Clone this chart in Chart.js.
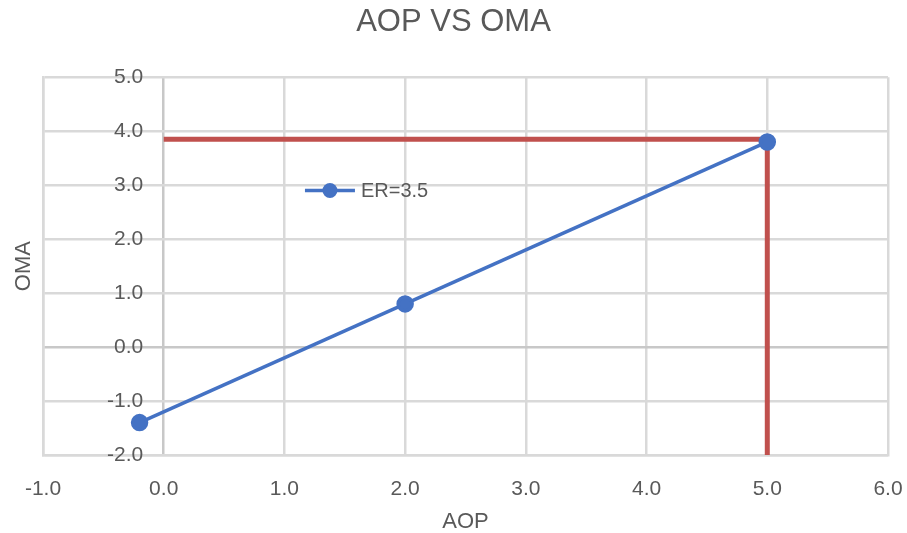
<!DOCTYPE html>
<html>
<head>
<meta charset="utf-8">
<script src="https://cdn.jsdelivr.net/npm/chart.js@4"></script>
<style>
  html, body { margin: 0; padding: 0; background: #fff; }
  #wrap { width: 907px; height: 533px; }
</style>
</head>
<body>
<div id="wrap"><canvas id="chart"></canvas></div>
<script>
// --- data ---
const erX = [-0.2, 2.0, 5.0];
const erY = [-1.4, 0.8, 3.8];
const hLineX = [0, 5];
const hLineY = [3.85, 3.85];
const vLineX = [5, 5];
const vLineY = [3.85, -2];
const xTicks = [-1, 0, 1, 2, 3, 4, 5, 6];
const yTicks = [-2, -1, 0, 1, 2, 3, 4, 5];

const TXT = '#595959';
const GRID = '#d9d9d9';
const BLUE = '#4472c4';
const RED = '#c0504d';
const FONT = "'Liberation Sans', Arial, sans-serif";

const pts = (xs, ys) => xs.map((x, i) => ({ x: x, y: ys[i] }));

// legend drawn inside the plot, Excel style (line + marker)
const insideLegend = {
    id: 'insideLegend',
    afterDraw(chart) {
        const ds = chart.data.datasets[0];
        const ctx = chart.ctx;
        const x = chart.scales.x.getPixelForValue(1.17);
        const y = chart.scales.y.getPixelForValue(2.9);
        ctx.save();
        ctx.strokeStyle = ds.borderColor;
        ctx.lineWidth = ds.borderWidth;
        ctx.beginPath();
        ctx.moveTo(x, y);
        ctx.lineTo(x + 50, y);
        ctx.stroke();
        ctx.fillStyle = ds.backgroundColor;
        ctx.beginPath();
        ctx.arc(x + 25, y, 7.5, 0, Math.PI * 2);
        ctx.fill();
        ctx.fillStyle = TXT;
        ctx.font = '20px ' + FONT;
        ctx.textBaseline = 'middle';
        ctx.fillText(ds.label, x + 56, y + 1);
        ctx.restore();
    }
};

new Chart(document.getElementById('chart'), {
    type: 'scatter',
    data: {
        datasets: [
            {
                label: 'ER=3.5',
                data: pts(erX, erY),
                showLine: true,
                borderColor: BLUE,
                backgroundColor: BLUE,
                borderWidth: 3.5,
                pointRadius: 7,
                pointHoverRadius: 7,
                order: 0
            },
            {
                label: 'h',
                data: pts(hLineX, hLineY),
                showLine: true,
                borderColor: RED,
                borderWidth: 5,
                pointRadius: 0,
                order: 1
            },
            {
                label: 'v',
                data: pts(vLineX, vLineY),
                showLine: true,
                borderColor: RED,
                borderWidth: 5,
                pointRadius: 0,
                order: 1
            }
        ]
    },
    options: {
        responsive: true,
        maintainAspectRatio: false,
        animation: false,
        layout: { padding: 0 },
        plugins: {
            legend: { display: false },
            tooltip: { enabled: false },
            title: {
                display: true,
                text: 'AOP VS OMA',
                color: TXT,
                font: { family: FONT, size: 31, weight: 'normal' },
                padding: { top: 4, bottom: 36 }
            }
        },
        scales: {
            x: {
                type: 'linear',
                min: -1,
                max: 6,
                afterBuildTicks: s => { s.ticks = xTicks.map(v => ({ value: v })); },
                afterFit: s => { s.height = 78; s.paddingLeft = 0; s.paddingRight = 19; },
                grid: {
                    color: c => (c.tick && c.tick.value === 0 ? '#c8c8c8' : GRID),
                    lineWidth: 2.5,
                    drawTicks: false
                },
                border: { color: GRID, width: 2.5 },
                ticks: {
                    color: TXT,
                    padding: 22,
                    font: { family: FONT, size: 21 },
                    callback: v => v.toFixed(1)
                },
                title: {
                    display: true,
                    text: 'AOP',
                    color: TXT,
                    font: { family: FONT, size: 22 },
                    padding: { top: 0, bottom: -2 }
                }
            },
            y: {
                type: 'linear',
                min: -2,
                max: 5,
                afterBuildTicks: s => { s.ticks = yTicks.map(v => ({ value: v })); },
                afterFit: s => { s.width = 43; },
                grid: {
                    color: c => (c.tick && c.tick.value === 0 ? '#c8c8c8' : GRID),
                    lineWidth: 2.5,
                    drawTicks: false
                },
                border: { color: GRID, width: 2.5 },
                ticks: {
                    mirror: true,
                    crossAlign: 'far',
                    padding: 64,
                    color: TXT,
                    font: { family: FONT, size: 21 },
                    callback: v => v.toFixed(1)
                },
                title: {
                    display: true,
                    text: 'OMA',
                    color: TXT,
                    font: { family: FONT, size: 22 },
                    padding: { top: 11, bottom: 0 }
                }
            }
        }
    },
    plugins: [insideLegend]
});
</script>
</body>
</html>
